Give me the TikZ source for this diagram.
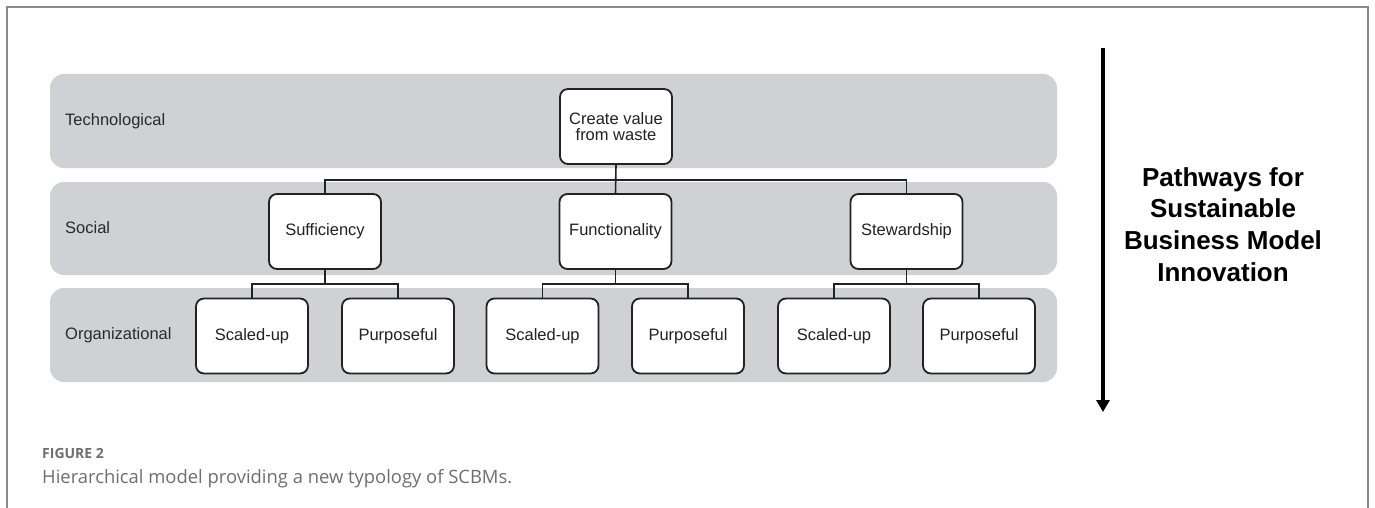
\documentclass[tikz,border=0pt]{standalone}
\usepackage{fontspec}
\setmainfont{Liberation Sans}
\newfontfamily\capfont{Open Sans}
\usetikzlibrary{arrows.meta}
\definecolor{bandgray}{HTML}{D0D1D5}
\definecolor{ink}{HTML}{222222}
\definecolor{labelink}{HTML}{2A2A2A}
\definecolor{capgray}{HTML}{6E6E6E}
\definecolor{framegray}{HTML}{8A8A8A}
\tikzset{
  band/.style={fill=bandgray, draw=none, rounded corners=14pt},
  bx/.style={draw=ink, fill=white, line width=1.8pt, rounded corners=8pt,
    minimum width=112pt, minimum height=75pt, inner sep=0pt, align=center,
    font=\fontsize{16.5}{16.5}\selectfont, text=ink},
  lvl/.style={anchor=west, inner sep=0pt, font=\fontsize{16.5}{18}\selectfont, text=labelink},
  conn/.style={draw=ink, line width=1.6pt},
}
\begin{document}
\begin{tikzpicture}[x=1pt,y=-1pt]
\useasboundingbox (0,0) rectangle (1375,508);
% frame
\coordinate (f1) at (7,508);
\coordinate (f2) at (7,7);
\coordinate (f3) at (1368,7);
\coordinate (f4) at (1368,508);
\draw[framegray, line width=1.6pt] (f1) -- (f2) -- (f3) -- (f4);
% bands
\path[band] (50,74) rectangle (1057,168);
\path[band] (50,182) rectangle (1057,275);
\path[band] (50,288) rectangle (1057,382);
% level labels
\node[lvl] (ltech) at (65,121) {Technological};
\node[lvl] (lsoc) at (65,228) {Social};
\node[lvl] (lorg) at (65,335) {Organizational};
% boxes
\node[bx] (cv) at (616,126.5) {Create value\\from waste};
\node[bx] (suf) at (325,231.5) {Sufficiency};
\node[bx] (fun) at (615.5,231.5) {Functionality};
\node[bx] (ste) at (906.5,231.5) {Stewardship};
\node[bx] (s1) at (252,336) {Scaled-up};
\node[bx] (p1) at (398,336) {Purposeful};
\node[bx] (s2) at (542.5,336) {Scaled-up};
\node[bx] (p2) at (688,336) {Purposeful};
\node[bx] (s3) at (834,336) {Scaled-up};
\node[bx] (p3) at (979,336) {Purposeful};
% connectors
\path (cv.south) ++(0,15) coordinate (j0);
\draw[conn] (cv.south) -- (fun.north);
\draw[conn] (suf.north) |- (j0) -| (ste.north);
\path (suf.south) ++(0,14) coordinate (j1);
\path (fun.south) ++(0,14) coordinate (j2);
\path (ste.south) ++(0,14) coordinate (j3);
\draw[conn] (suf.south) -- (j1);
\draw[conn] (s1.north) |- (j1) -| (p1.north);
\draw[conn] (fun.south) -- (j2);
\draw[conn] (s2.north) |- (j2) -| (p2.north);
\draw[conn] (ste.south) -- (j3);
\draw[conn] (s3.north) |- (j3) -| (p3.north);
% arrow
\coordinate (atop) at (1103,48);
\coordinate (abot) at (1103,412);
\draw[black, line width=4pt, -{Triangle[width=13pt,length=12pt]}] (atop) -- (abot);
\node[align=center, font=\fontsize{26}{31.7}\selectfont\bfseries, text=black] (title) at (1223,224.5)
  {Pathways for\\Sustainable\\Business Model\\Innovation};
% caption
\node[anchor=base west, inner sep=0pt, font=\capfont\bfseries\fontsize{14}{16}\selectfont, text=capgray] (fig) at (42,458) {FIGURE 2};
\node[anchor=base west, inner sep=0pt, font=\capfont\fontsize{18.4}{22}\selectfont, text=capgray] (cap) at (42,483) {Hierarchical model providing a new typology of SCBMs.};
\end{tikzpicture}
\end{document}
